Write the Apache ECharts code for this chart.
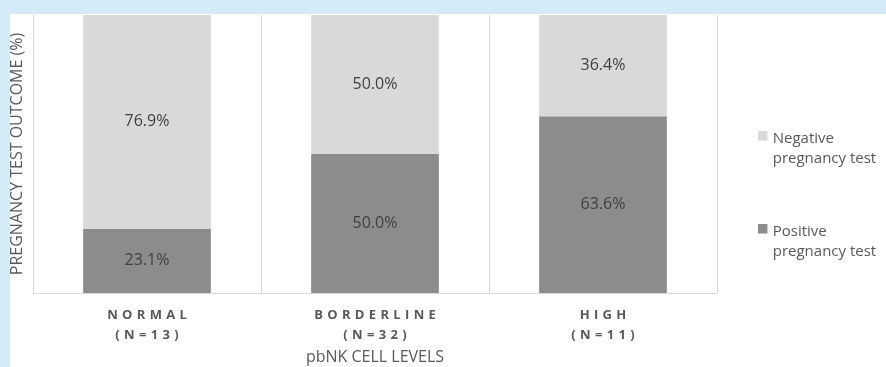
<!DOCTYPE html>
<html>
<head>
<meta charset="utf-8">
<script src="https://cdn.jsdelivr.net/npm/echarts@6/dist/echarts.min.js"></script>
<style>
  html, body { margin: 0; padding: 0; background: #d4ebf9; }
  #chart { position: absolute; left: 10px; top: 14px; width: 876px; height: 353px; background: #fff; }
</style>
</head>
<body>
<div id="chart"></div>
<script>
const categories = ['NORMAL', 'BORDERLINE', 'HIGH']
const sampleSizes = [13, 32, 11]
const positive = [23.1, 50.0, 63.6]
const negative = [76.9, 50.0, 36.4]

// spread letters out like the original's character spacing
const spaced = s => s.split('').join('\u2004')

const chart = echarts.init(document.getElementById('chart'))
const font = '"Open Sans", sans-serif'
const labelStyle = {
  show: true,
  position: 'inside',
  formatter: p => p.value.toFixed(1) + '%',
  color: '#404040',
  fontSize: 16,
  fontFamily: font
}

const option = {
  animation: false,
  textStyle: { fontFamily: font },
  grid: { left: 23, right: 169, top: 1, bottom: 74, outerBoundsMode: 'none', containLabel: false },
  legend: {
    orient: 'vertical',
    left: 748,
    top: 115,
    padding: 0,
    itemGap: 53,
    itemWidth: 10,
    itemHeight: 36,
    // square sits at the top, next to the first line of text
    icon: 'path://M0,0H10V10H0Z M0,38H0.1V38.1H0Z',
    data: ['Negative pregnancy test', 'Positive pregnancy test'],
    formatter: name => name.replace(' ', '\n'),
    textStyle: { color: '#595959', fontSize: 15, lineHeight: 20, fontFamily: font }
  },
  xAxis: {
    type: 'category',
    data: categories,
    name: 'pbNK CELL LEVELS',
    nameLocation: 'middle',
    nameGap: 54,
    nameTextStyle: { color: '#595959', fontSize: 16, fontFamily: font },
    axisLine: { lineStyle: { color: '#d9d9d9' } },
    axisTick: { show: false },
    splitLine: { show: true, lineStyle: { color: '#d9d9d9' } },
    axisLabel: {
      margin: 12,
      color: '#595959',
      fontSize: 13,
      fontWeight: 'bold',
      lineHeight: 20,
      fontFamily: font,
      formatter: (v, i) => spaced(v) + '\n' + spaced('(N=' + sampleSizes[i] + ')')
    }
  },
  yAxis: {
    type: 'value',
    min: 0,
    max: 100,
    name: 'PREGNANCY TEST OUTCOME (%)',
    nameLocation: 'middle',
    nameGap: 8,
    nameTextStyle: { color: '#595959', fontSize: 16, fontFamily: font },
    axisLine: { show: true, lineStyle: { color: '#d9d9d9' } },
    axisTick: { show: false },
    axisLabel: { show: false },
    splitLine: { show: false }
  },
  series: [
    {
      name: 'Positive pregnancy test',
      type: 'bar',
      stack: 'total',
      barWidth: '56%',
      data: positive,
      itemStyle: { color: '#8c8c8c' },
      label: labelStyle
    },
    {
      name: 'Negative pregnancy test',
      type: 'bar',
      stack: 'total',
      barWidth: '56%',
      data: negative,
      itemStyle: { color: '#d9d9d9' },
      label: labelStyle
    }
  ]
}
chart.setOption(option)

window.addEventListener('resize', function() {
  chart.resize()
})
</script>
</body>
</html>
